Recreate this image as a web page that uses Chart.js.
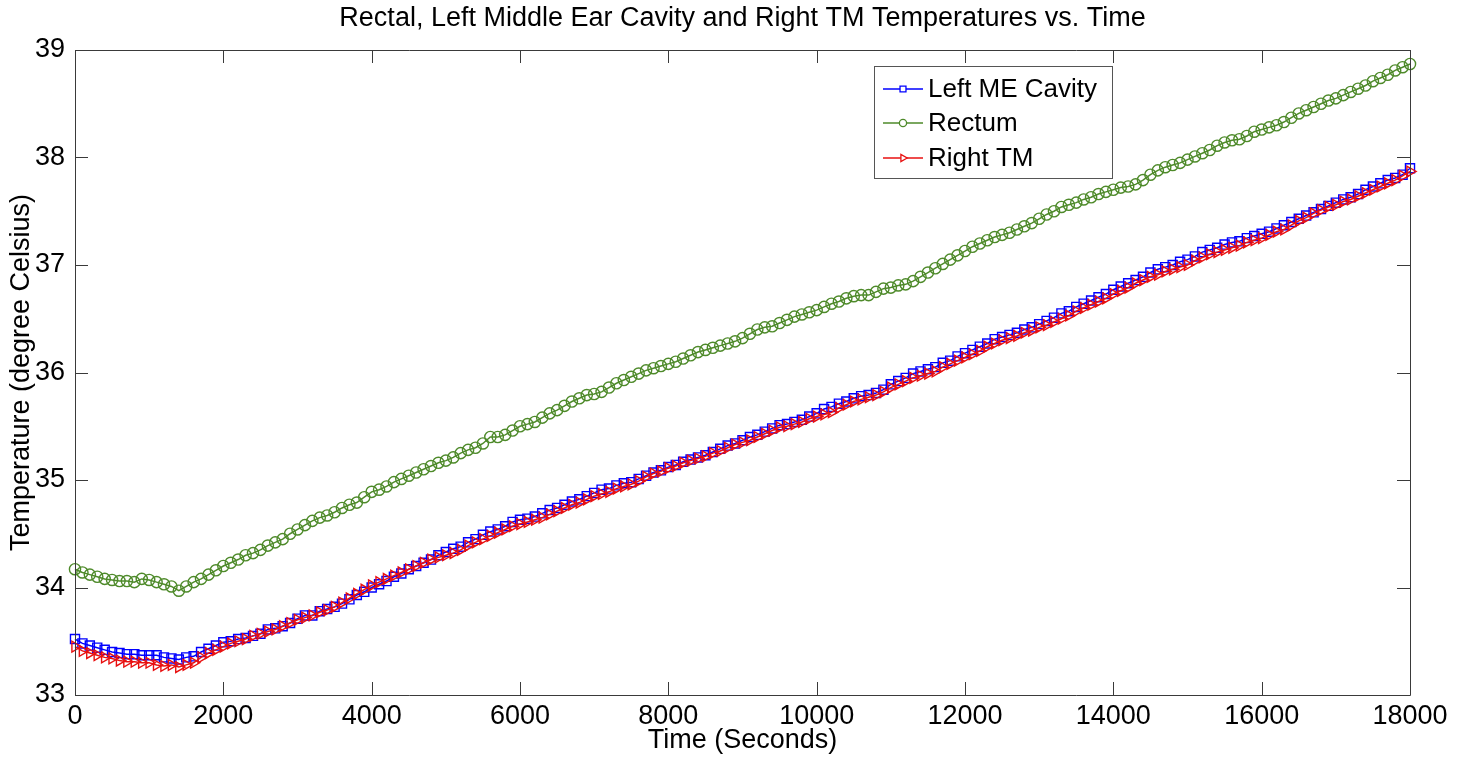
<!DOCTYPE html>
<html>
<head>
<meta charset="utf-8">
<script src="https://cdn.jsdelivr.net/npm/chart.js@4.4.0/dist/chart.umd.min.js"></script>
<style>
  html, body { margin: 0; padding: 0; background: #fff; }
</style>
</head>
<body>
<canvas id="tempChart" width="1465" height="757"></canvas>
<script>

const titleText = "Rectal, Left Middle Ear Cavity and Right TM Temperatures vs. Time";
const xTitle = "Time (Seconds)";
const yTitle = "Temperature (degree Celsius)";

const seriesNames = ["Left ME Cavity", "Rectum", "Right TM"];

// sample times in seconds (0 .. 18000, one every 100 s)
const times = Array.from({ length: 181 }, (_, i) => i * 100);

const xTicks = [0, 2000, 4000, 6000, 8000, 10000, 12000, 14000, 16000, 18000];
const yTicks = [33, 34, 35, 36, 37, 38, 39];

const leftME = [
  33.52, 33.48, 33.46, 33.44, 33.42, 33.40, 33.39, 33.38, 33.38, 33.37, 33.37, 33.37, 33.35, 33.34, 33.33,
  33.35, 33.36, 33.40, 33.43, 33.46, 33.49,
  33.50, 33.52, 33.53, 33.55, 33.57, 33.61, 33.62, 33.64, 33.67, 33.71,
  33.74, 33.74, 33.78, 33.80, 33.82, 33.85, 33.89, 33.93, 33.96, 34.00,
  34.03, 34.06, 34.10, 34.13, 34.17, 34.20, 34.23, 34.26, 34.30, 34.33,
  34.36, 34.38, 34.42, 34.45, 34.49, 34.52, 34.54, 34.57, 34.61, 34.63,
  34.64, 34.66, 34.69, 34.72, 34.74, 34.77, 34.80, 34.82, 34.85, 34.88,
  34.91, 34.92, 34.95, 34.97, 34.98, 35.01, 35.04, 35.07, 35.09, 35.12,
  35.14, 35.17, 35.19, 35.21, 35.23, 35.26, 35.29, 35.32, 35.34, 35.37,
  35.40, 35.42, 35.45, 35.48, 35.51, 35.52, 35.54, 35.56, 35.59, 35.62,
  35.66, 35.68, 35.71, 35.73, 35.76, 35.78, 35.79, 35.81, 35.84, 35.89,
  35.92, 35.95, 35.99, 36.01, 36.03, 36.05, 36.09, 36.11, 36.15, 36.18,
  36.21, 36.24, 36.27, 36.31, 36.33, 36.35, 36.37, 36.40, 36.42, 36.45,
  36.48, 36.51, 36.55, 36.57, 36.61, 36.64, 36.67, 36.70, 36.73, 36.77,
  36.80, 36.83, 36.86, 36.89, 36.93, 36.96, 36.98, 37.00, 37.03, 37.05,
  37.08, 37.12, 37.14, 37.16, 37.19, 37.21, 37.22, 37.25, 37.27, 37.29,
  37.31, 37.34, 37.37, 37.40, 37.43, 37.46, 37.49, 37.52, 37.55, 37.58,
  37.61, 37.63, 37.66, 37.70, 37.73, 37.76, 37.79, 37.81, 37.84, 37.90
];

const rectum = [
  34.17, 34.14, 34.12, 34.10, 34.08, 34.07, 34.06, 34.06, 34.05, 34.08, 34.07, 34.05, 34.03, 34.01, 33.97,
  34.01, 34.05, 34.08, 34.12, 34.16, 34.20,
  34.23, 34.26, 34.30, 34.32, 34.35, 34.39, 34.42, 34.45, 34.50, 34.54,
  34.58, 34.62, 34.65, 34.67, 34.70, 34.74, 34.77, 34.79, 34.84, 34.89,
  34.91, 34.94, 34.98, 35.01, 35.04, 35.07, 35.10, 35.13, 35.16, 35.18,
  35.21, 35.25, 35.28, 35.30, 35.34, 35.40, 35.40, 35.42, 35.46, 35.50,
  35.52, 35.54, 35.58, 35.62, 35.65, 35.69, 35.73, 35.76, 35.79, 35.80,
  35.82, 35.86, 35.90, 35.93, 35.96, 35.99, 36.02, 36.04, 36.06, 36.08,
  36.10, 36.13, 36.16, 36.19, 36.21, 36.23, 36.25, 36.27, 36.29, 36.32,
  36.36, 36.40, 36.42, 36.43, 36.46, 36.49, 36.52, 36.54, 36.56, 36.58,
  36.61, 36.64, 36.66, 36.69, 36.71, 36.72, 36.72, 36.75, 36.78, 36.79,
  36.81, 36.82, 36.85, 36.89, 36.93, 36.97, 37.01, 37.05, 37.09, 37.13,
  37.17, 37.20, 37.23, 37.26, 37.28, 37.30, 37.33, 37.36, 37.39, 37.43,
  37.47, 37.50, 37.54, 37.56, 37.58, 37.61, 37.63, 37.66, 37.68, 37.70,
  37.72, 37.73, 37.75, 37.79, 37.84, 37.88, 37.91, 37.93, 37.95, 37.98,
  38.01, 38.04, 38.07, 38.11, 38.14, 38.16, 38.17, 38.20, 38.24, 38.26,
  38.28, 38.30, 38.33, 38.37, 38.41, 38.44, 38.47, 38.50, 38.53, 38.55,
  38.58, 38.61, 38.64, 38.67, 38.71, 38.74, 38.77, 38.81, 38.84, 38.87
];

const rightTM = [
  33.45, 33.41, 33.39, 33.37, 33.35, 33.34, 33.32, 33.31, 33.31, 33.30, 33.30, 33.28, 33.27, 33.28, 33.26,
  33.28, 33.30, 33.35, 33.39, 33.42, 33.45,
  33.48, 33.50, 33.52, 33.55, 33.57, 33.59, 33.61, 33.64, 33.67, 33.70,
  33.72, 33.74, 33.77, 33.79, 33.82, 33.86, 33.90, 33.94, 33.98, 34.02,
  34.05, 34.08, 34.11, 34.14, 34.17, 34.20, 34.23, 34.26, 34.28, 34.30,
  34.32, 34.35, 34.39, 34.42, 34.45, 34.48, 34.51, 34.54, 34.57, 34.59,
  34.61, 34.63, 34.65, 34.68, 34.71, 34.74, 34.77, 34.79, 34.82, 34.85,
  34.87, 34.89, 34.92, 34.94, 34.96, 34.99, 35.03, 35.06, 35.08, 35.11,
  35.13, 35.16, 35.18, 35.20, 35.22, 35.25, 35.27, 35.30, 35.33, 35.35,
  35.37, 35.40, 35.43, 35.46, 35.49, 35.50, 35.52, 35.54, 35.57, 35.59,
  35.61, 35.63, 35.67, 35.70, 35.73, 35.75, 35.77, 35.79, 35.82, 35.86,
  35.89, 35.92, 35.95, 35.97, 35.99, 36.01, 36.05, 36.08, 36.11, 36.14,
  36.17, 36.20, 36.24, 36.27, 36.30, 36.32, 36.34, 36.37, 36.39, 36.42,
  36.44, 36.47, 36.50, 36.53, 36.57, 36.60, 36.63, 36.66, 36.69, 36.73,
  36.76, 36.79, 36.83, 36.86, 36.89, 36.91, 36.94, 36.96, 36.98, 37.00,
  37.04, 37.07, 37.10, 37.12, 37.14, 37.16, 37.18, 37.21, 37.23, 37.25,
  37.28, 37.31, 37.33, 37.37, 37.41, 37.44, 37.48, 37.51, 37.54, 37.56,
  37.59, 37.61, 37.64, 37.67, 37.70, 37.73, 37.76, 37.79, 37.83, 37.87
];

const BLUE = "rgb(0, 0, 255)";
const GREEN = "rgb(78, 138, 42)";
const RED = "rgb(232, 16, 16)";
const AXIS = "#3a3a3a";
const FONT = "'Liberation Sans', Arial, Helvetica, sans-serif";

Chart.defaults.font.family = FONT;
Chart.defaults.color = "#000";

function toPoints(values) {
  return times.map((t, i) => ({ x: t, y: values[i] }));
}

// marker settings per series (plot size / legend size)
const markers = [
  { style: "rect", radius: 6.4, rotation: 0, legendRadius: 4.2 },
  { style: "circle", radius: 5.6, rotation: 0, legendRadius: 3.6 },
  { style: "triangle", radius: 6.2, rotation: 90, legendRadius: 4.2 }
];
const colors = [BLUE, GREEN, RED];

// MATLAB-like box with inward ticks
const boxAxes = {
  id: "boxAxes",
  afterDatasetsDraw(chart) {
    const { ctx, chartArea: a, scales } = chart;
    const len = 13;
    ctx.save();
    ctx.strokeStyle = AXIS;
    ctx.lineWidth = 1;
    ctx.beginPath();
    ctx.rect(Math.round(a.left) + 0.5, Math.round(a.top) + 0.5,
             Math.round(a.right - a.left), Math.round(a.bottom - a.top));
    scales.x.ticks.forEach(t => {
      const px = Math.round(scales.x.getPixelForValue(t.value)) + 0.5;
      ctx.moveTo(px, a.bottom); ctx.lineTo(px, a.bottom - len);
      ctx.moveTo(px, a.top); ctx.lineTo(px, a.top + len);
    });
    scales.y.ticks.forEach(t => {
      const py = Math.round(scales.y.getPixelForValue(t.value)) + 0.5;
      ctx.moveTo(a.left, py); ctx.lineTo(a.left + len, py);
      ctx.moveTo(a.right, py); ctx.lineTo(a.right - len, py);
    });
    ctx.stroke();
    ctx.restore();
  }
};

// title centred over the plot box, like MATLAB does
const plotTitle = {
  id: "plotTitle",
  afterDraw(chart) {
    const { ctx, chartArea: a } = chart;
    ctx.save();
    ctx.font = "27px " + FONT;
    ctx.fillStyle = "#000";
    ctx.textAlign = "center";
    ctx.textBaseline = "middle";
    ctx.fillText(titleText, (a.left + a.right) / 2, 19);
    ctx.restore();
  }
};

// legend box inside the plot, upper right
const insetLegend = {
  id: "insetLegend",
  afterDraw(chart) {
    const { ctx, chartArea: a } = chart;
    const x0 = a.left + 799, y0 = a.top + 16, w = 238, h = 112;
    ctx.save();
    ctx.fillStyle = "#fff";
    ctx.fillRect(x0, y0, w, h);
    ctx.strokeStyle = "#555";
    ctx.lineWidth = 1;
    ctx.strokeRect(x0 + 0.5, y0 + 0.5, w, h);
    ctx.font = "26px " + FONT;
    ctx.textBaseline = "middle";
    const rows = [y0 + 23, y0 + 57, y0 + 92];
    seriesNames.forEach((name, i) => {
      const y = rows[i];
      ctx.strokeStyle = colors[i];
      ctx.lineWidth = 1.5;
      ctx.beginPath();
      ctx.moveTo(x0 + 9, y);
      ctx.lineTo(x0 + 49, y);
      ctx.stroke();
      ctx.fillStyle = "#fff";
      ctx.lineWidth = 1.3;
      Chart.helpers.drawPoint(ctx, {
        pointStyle: markers[i].style,
        radius: markers[i].legendRadius,
        rotation: markers[i].rotation,
        borderWidth: 1.3
      }, x0 + 29, y);
      ctx.fillStyle = "#000";
      ctx.fillText(name, x0 + 54, y + 1);
    });
    ctx.restore();
  }
};

const seriesValues = [leftME, rectum, rightTM];

const datasets = seriesNames.map((name, i) => ({
  label: name,
  data: toPoints(seriesValues[i]),
  borderColor: colors[i],
  borderWidth: 1.5,
  backgroundColor: "rgba(0,0,0,0)",
  pointStyle: markers[i].style,
  pointRadius: markers[i].radius,
  pointRotation: markers[i].rotation,
  pointBorderColor: colors[i],
  pointBackgroundColor: "rgba(0,0,0,0)",
  pointBorderWidth: 1.4,
  tension: 0,
  clip: false,
  order: i === 2 ? 1 : (i === 0 ? 2 : 3)
}));

const chart = new Chart(document.getElementById("tempChart"), {
  type: "line",
  data: { datasets },
  plugins: [boxAxes, plotTitle, insetLegend],
  options: {
    responsive: false,
    animation: false,
    events: [],
    layout: { padding: { left: 0, right: 55, top: 50, bottom: 0 } },
    plugins: {
      legend: { display: false },
      tooltip: { enabled: false },
      title: { display: false }
    },
    scales: {
      x: {
        type: "linear",
        min: 0,
        max: 18000,
        afterBuildTicks: s => { s.ticks = xTicks.map(v => ({ value: v })); },
        afterFit: s => { s.height = 62; },
        grid: { display: false, drawTicks: false },
        border: { display: false },
        ticks: {
          font: { size: 27 },
          color: "#000",
          padding: 5,
          maxRotation: 0,
          callback: v => String(v)
        },
        title: {
          display: true,
          text: xTitle,
          font: { size: 27 },
          color: "#000",
          padding: { top: 0, bottom: 0 }
        }
      },
      y: {
        type: "linear",
        min: 33,
        max: 39,
        afterBuildTicks: s => { s.ticks = yTicks.map(v => ({ value: v })); },
        afterFit: s => { s.width = 75; },
        grid: { display: false, drawTicks: false },
        border: { display: false },
        ticks: {
          font: { size: 27 },
          color: "#000",
          padding: 10,
          callback: v => String(v)
        },
        title: {
          display: true,
          text: yTitle,
          font: { size: 27 },
          color: "#000",
          padding: { top: 5, bottom: 0 }
        }
      }
    }
  }
});
</script>
</body>
</html>
